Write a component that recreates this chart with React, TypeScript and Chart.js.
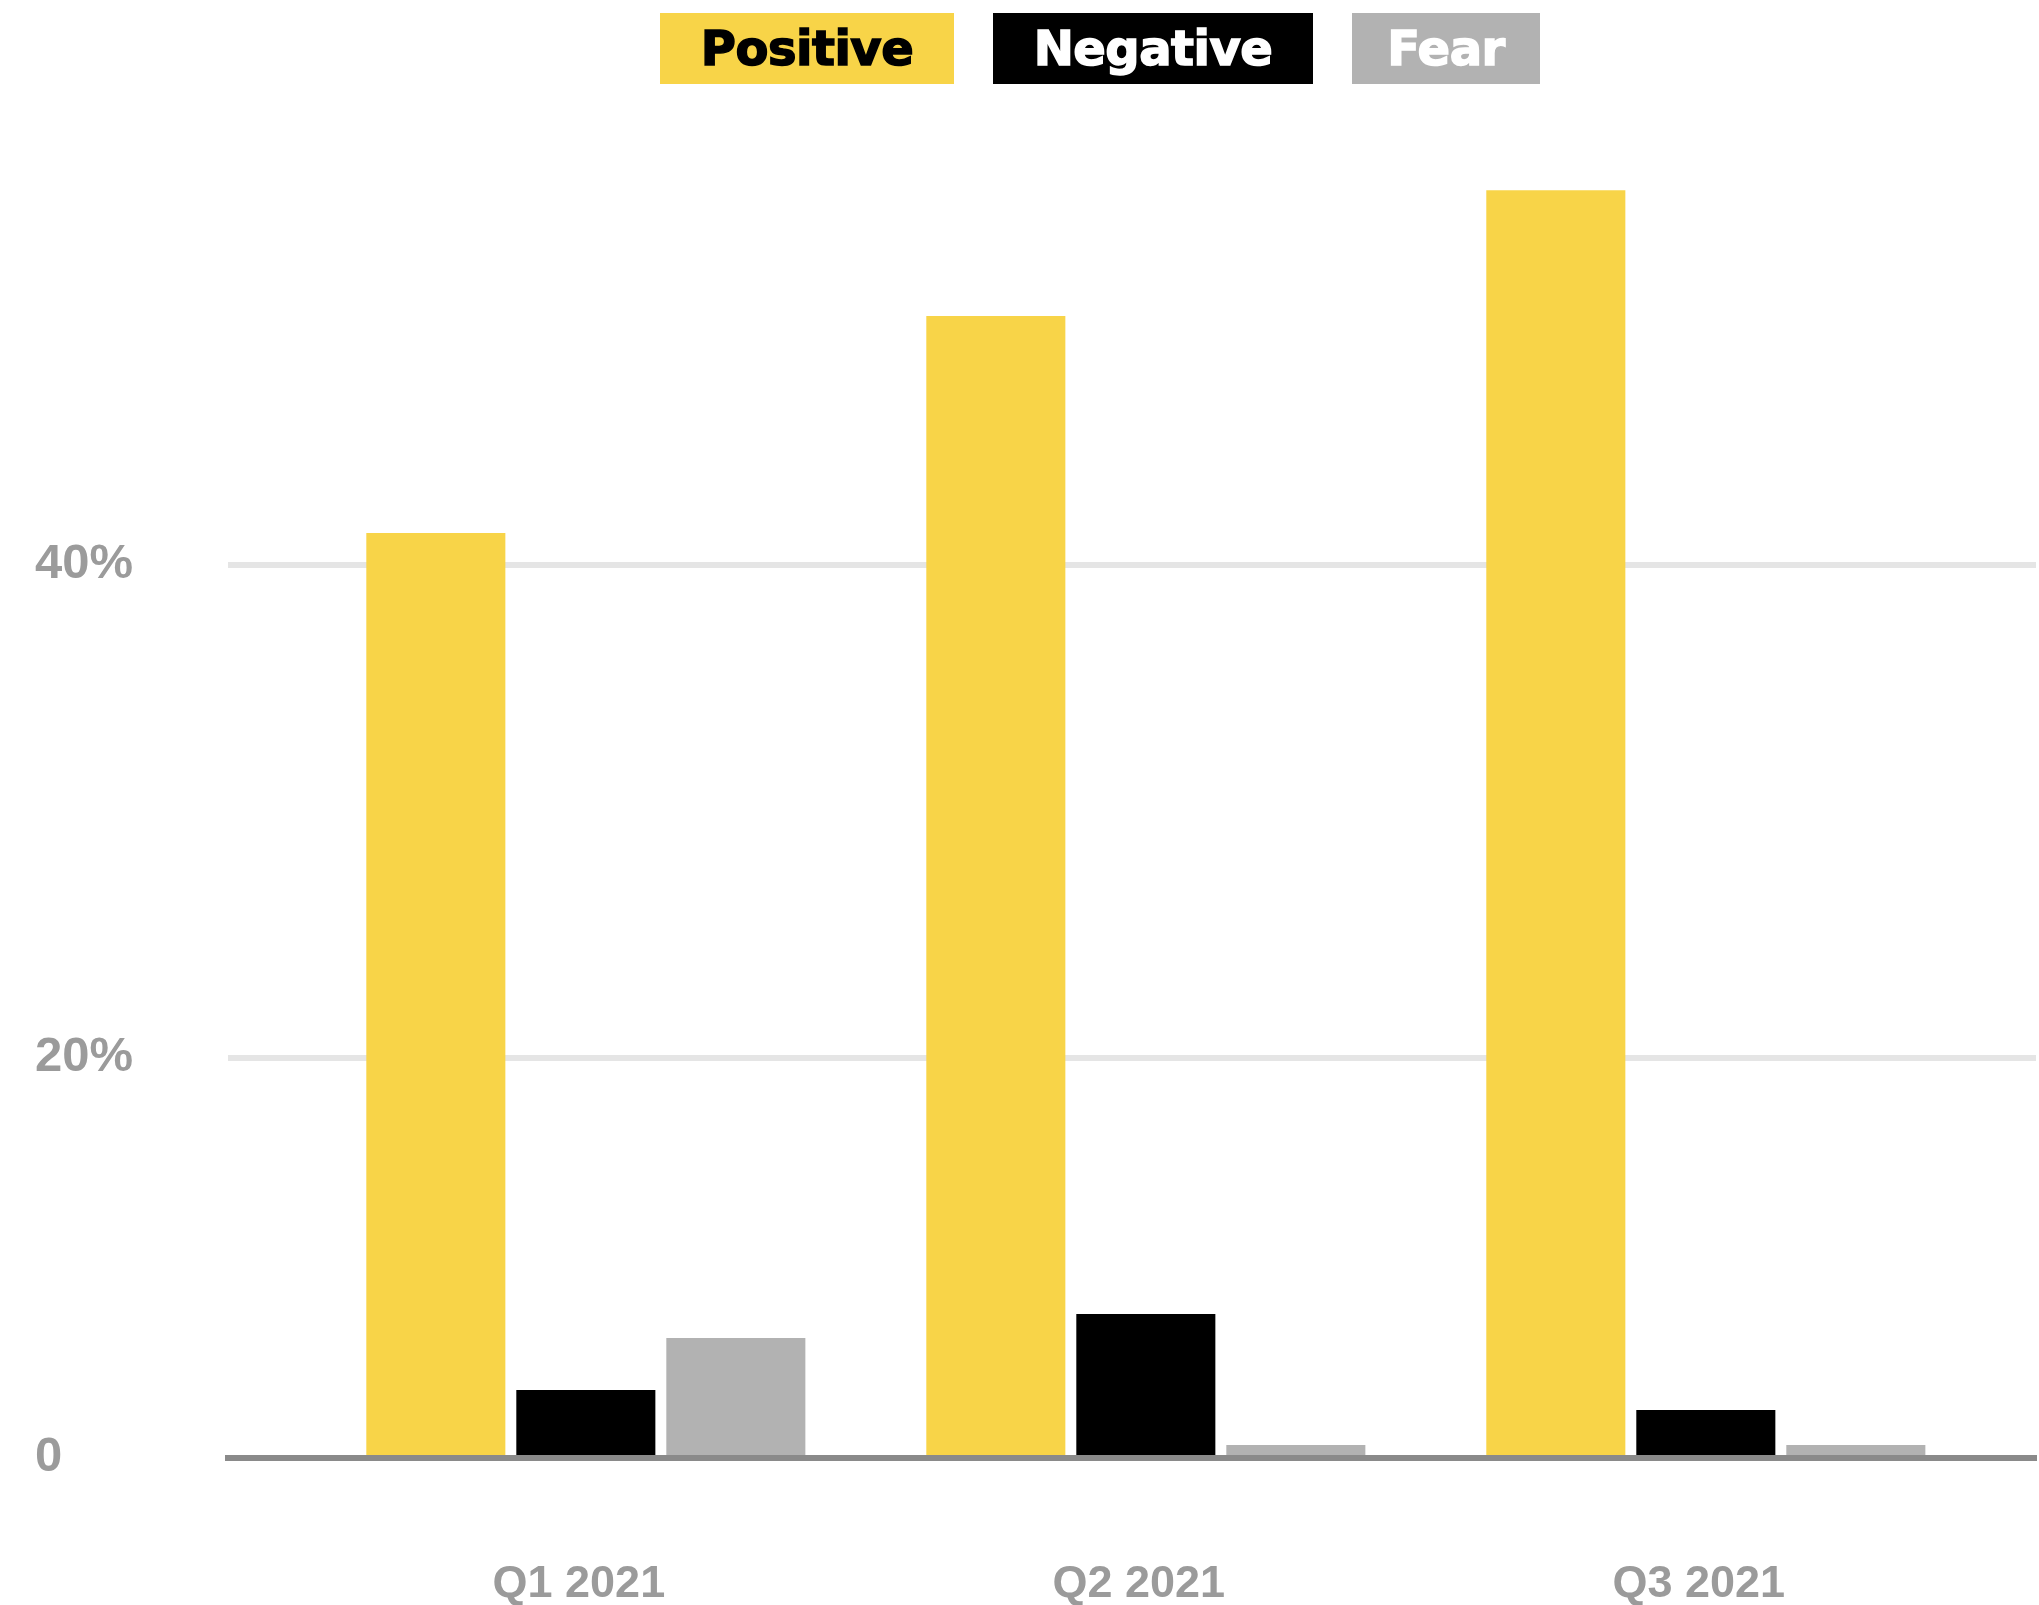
import React, { useEffect, useRef } from 'react';
import { Chart, registerables, LinearScale } from 'chart.js';

// ---- data ----
const CATEGORIES = ['Q1 2021', 'Q2 2021', 'Q3 2021'];
const SERIES_NAMES = ['Positive', 'Negative', 'Fear'];
const POSITIVE = [41.3, 50.1, 55.2];
const NEGATIVE = [3.4, 7.2, 2.4];
const FEAR = [6.0, 0.65, 0.65];
const Y_TICKS = [0, 20, 40];

// ---- styles ----
const SERIES_COLORS = ['#f8d448', '#000000', '#b2b2b2'];
const LEGEND_TEXT_COLORS = ['#000000', '#ffffff', '#ffffff'];
const LEGEND_BOX_WIDTHS = [294, 320, 188];
const LABEL_GREY = '#9b9b9b';

// axis set-up: the source axis has a steeper pitch above 20%
const Y_BREAK = 20;
const Y_UPPER_STRETCH = 1.2325;
const Y_MAX = 60;
const X_MIN = -0.639;
const X_MAX = 2.5896;

class BrokenLinearScale extends LinearScale {
  static id = 'brokenLinear';
  static defaults = LinearScale.defaults;
  warp(v: any) {
    if (v === null || v === undefined) return v;
    return v <= Y_BREAK ? v : Y_BREAK + (v - Y_BREAK) * Y_UPPER_STRETCH;
  }
  unwarp(u: number) {
    return u <= Y_BREAK ? u : Y_BREAK + (u - Y_BREAK) / Y_UPPER_STRETCH;
  }
  configure() {
    super.configure();
    const s = this.warp(this.min);
    const e = this.warp(this.max);
    (this as any)._startValue = s;
    (this as any)._endValue = e;
    (this as any)._valueRange = e - s;
  }
  getPixelForValue(value: any) {
    return super.getPixelForValue(this.warp(value));
  }
  getValueForPixel(pixel: number) {
    return this.unwarp(super.getValueForPixel(pixel) as number);
  }
}

Chart.register(...registerables, BrokenLinearScale);

const SERIES_VALUES = [POSITIVE, NEGATIVE, FEAR];

export default function App() {
  const canvasRef = useRef<HTMLCanvasElement | null>(null);

  useEffect(() => {
    document.body.style.margin = '0';
    document.body.style.overflow = 'hidden';
    const canvas = canvasRef.current;
    if (!canvas) return;
    Chart.defaults.font.family = "'Liberation Sans', Arial, sans-serif";

    const chart = new Chart(canvas, {
      type: 'bar',
      data: {
        datasets: SERIES_NAMES.map((name, si) => ({
          label: name,
          data: SERIES_VALUES[si].map((y, i) => ({ x: i, y })),
          backgroundColor: SERIES_COLORS[si],
          borderWidth: 0,
          categoryPercentage: 0.8036,
          barPercentage: 0.927,
        })),
      },
      options: {
        responsive: false,
        animation: false,
        layout: { padding: { left: 35, right: 3, top: 72, bottom: 0 } },
        plugins: {
          legend: { display: false },
          tooltip: { enabled: false },
        },
        scales: {
          x: {
            type: 'linear',
            min: X_MIN,
            max: X_MAX,
            bounds: 'data',
            offset: false,
            grid: { display: false },
            border: { display: true, color: '#8a8a8a', width: 6, z: 1 },
            afterBuildTicks: (s: any) => {
              s.ticks = CATEGORIES.map((_, i) => ({ value: i }));
            },
            afterFit: (s: any) => {
              s.height = 147;
            },
            ticks: {
              callback: (v: any) => CATEGORIES[v] ?? '',
              padding: 92,
              labelOffset: -7,
              maxRotation: 0,
              autoSkip: false,
              color: LABEL_GREY,
              font: { size: 45, weight: 'bold' },
            },
          },
          y: {
            type: 'brokenLinear' as any,
            min: 0,
            max: Y_MAX,
            grid: { color: '#e5e5e5', lineWidth: 6, drawTicks: false },
            border: { display: false },
            afterBuildTicks: (s: any) => {
              s.ticks = Y_TICKS.map((v) => ({ value: v }));
            },
            afterFit: (s: any) => {
              s.width = 193;
            },
            ticks: {
              crossAlign: 'far',
              padding: 0,
              labelOffset: -1,
              callback: (v: any) => (v === 0 ? '0' : `${v}%`),
              color: LABEL_GREY,
              font: { size: 49, weight: 'bold' },
            },
          },
        },
      } as any,
    });
    return () => chart.destroy();
  }, []);

  return (
    <div style={{ position: 'absolute', left: 0, top: 0, width: 2039, height: 1605, background: '#fff' }}>
      <canvas ref={canvasRef} width={2039} height={1605} style={{ position: 'absolute', left: 0, top: 0 }} />
      <div style={{ position: 'absolute', left: 660, top: 13, display: 'flex', gap: 39 }}>
        {SERIES_NAMES.map((name, i) => (
          <div
            key={name}
            style={{
              background: SERIES_COLORS[i],
              color: LEGEND_TEXT_COLORS[i],
              width: LEGEND_BOX_WIDTHS[i],
              height: 71,
              lineHeight: '71px',
              textAlign: 'center',
              fontFamily: "'DejaVu Sans', sans-serif",
              fontWeight: 'bold',
              fontSize: 48,
              WebkitTextStroke: '1.5px currentColor',
              letterSpacing: -0.5,
            }}
          >
            {name}
          </div>
        ))}
      </div>
    </div>
  );
}
